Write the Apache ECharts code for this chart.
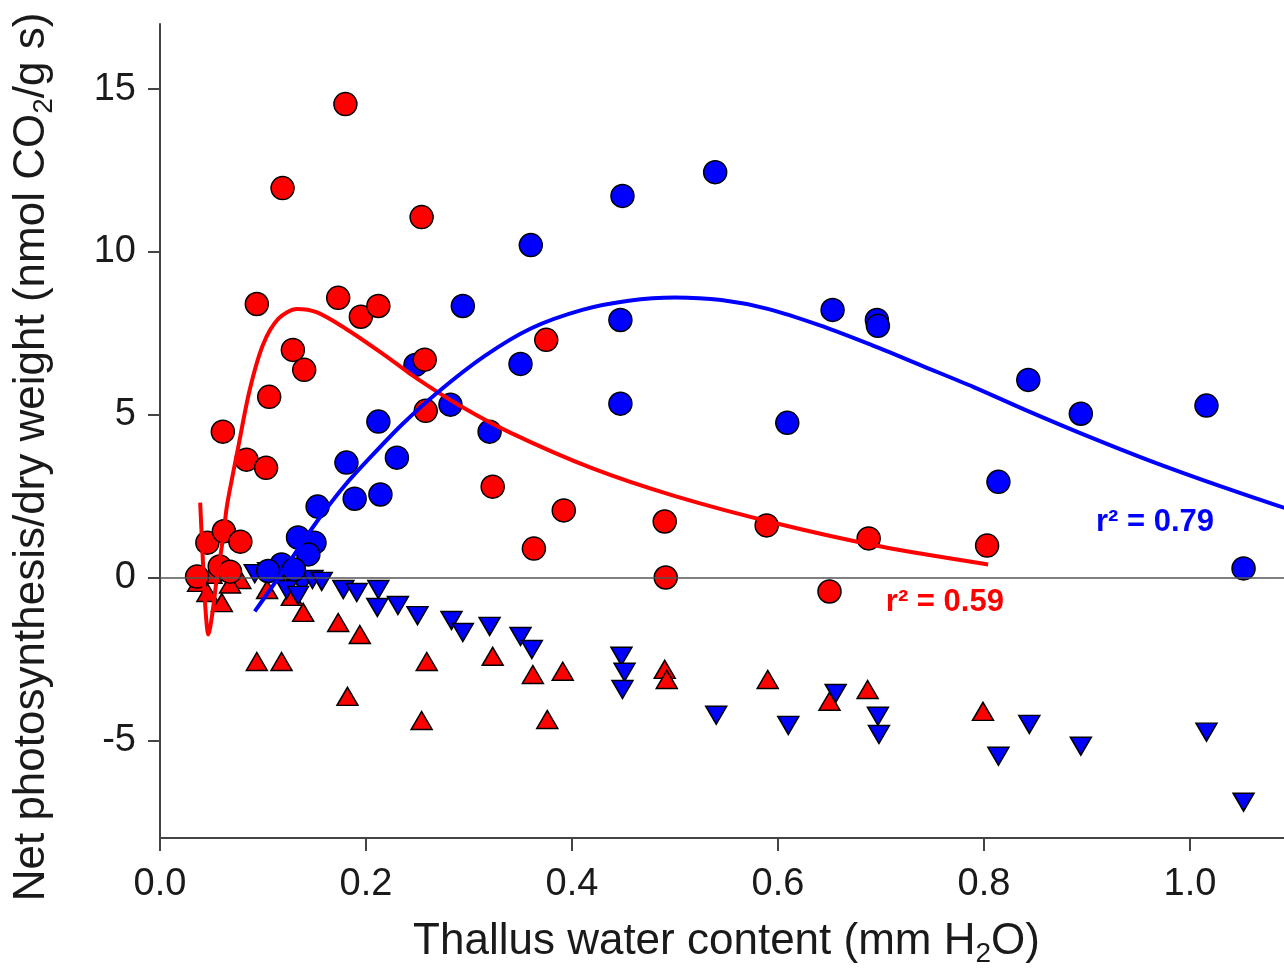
<!DOCTYPE html>
<html>
<head>
<meta charset="utf-8">
<title>Net photosynthesis vs thallus water content</title>
<script src="https://cdn.jsdelivr.net/npm/echarts@6.0.0/dist/echarts.min.js"></script>
<style>
  html, body { margin: 0; padding: 0; background: #ffffff; }
  #chart { width: 1284px; height: 971px; }
</style>
</head>
<body>
<div id="chart"></div>
<script>
// Net photosynthesis (circles) and dark respiration (triangles) per dry weight,
// red and blue samples, against thallus water content.
const redPhotosynthesis = [
  [0.180, 14.54], [0.119, 11.96], [0.254, 11.07], [0.094, 8.40], [0.173, 8.59],
  [0.195, 8.01], [0.212, 8.34], [0.129, 6.99], [0.140, 6.38], [0.257, 6.69],
  [0.375, 7.30], [0.106, 5.55], [0.258, 5.12], [0.061, 4.48], [0.084, 3.62],
  [0.103, 3.37], [0.323, 2.79], [0.392, 2.06], [0.363, 0.89], [0.490, 1.72],
  [0.589, 1.60], [0.688, 1.20], [0.803, 0.98], [0.491, 0.00], [0.650, -0.43],
  [0.036, 0.03], [0.046, 1.07], [0.062, 1.42], [0.078, 1.10], [0.058, 0.34],
  [0.068, 0.18]
];
const bluePhotosynthesis = [
  [0.539, 12.45], [0.449, 11.72], [0.360, 10.21], [0.294, 8.34], [0.447, 7.91],
  [0.653, 8.22], [0.696, 7.91], [0.697, 7.73], [0.350, 6.56], [0.248, 6.53],
  [0.447, 5.34], [0.609, 4.75], [0.843, 6.07], [0.894, 5.03], [1.016, 5.28],
  [0.814, 2.94], [1.052, 0.28], [0.282, 5.31], [0.320, 4.48], [0.212, 4.79],
  [0.230, 3.68], [0.181, 3.53], [0.189, 2.42], [0.214, 2.55], [0.153, 2.18],
  [0.134, 1.23], [0.150, 1.07], [0.144, 0.71], [0.118, 0.40], [0.105, 0.20],
  [0.130, 0.25]
];
const redRespiration = [
  [0.037, -0.15], [0.046, -0.46], [0.060, -0.77], [0.060, 0.18], [0.078, -0.06],
  [0.104, -0.37], [0.128, -0.58], [0.139, -1.07], [0.173, -1.38], [0.194, -1.75],
  [0.094, -2.58], [0.118, -2.58], [0.259, -2.58], [0.182, -3.65], [0.254, -4.39],
  [0.323, -2.42], [0.362, -2.98], [0.391, -2.88], [0.490, -2.82], [0.492, -3.13],
  [0.376, -4.36], [0.590, -3.13], [0.650, -3.80], [0.687, -3.44], [0.799, -4.11],
  [0.050, 0.10], [0.068, -0.20]
];
const blueRespiration = [
  [0.092, 0.12], [0.105, 0.18], [0.117, 0.00], [0.128, -0.06], [0.138, -0.21],
  [0.148, -0.06], [0.157, -0.12], [0.123, -0.37], [0.134, -0.55],
  [0.178, -0.37], [0.191, -0.46], [0.212, -0.37], [0.211, -0.92], [0.231, -0.86],
  [0.250, -1.17], [0.283, -1.32], [0.294, -1.69], [0.320, -1.50], [0.350, -1.81],
  [0.361, -2.21], [0.448, -2.42], [0.451, -2.91], [0.449, -3.44], [0.540, -4.23],
  [0.610, -4.54], [0.656, -3.56], [0.697, -4.26], [0.698, -4.82], [0.814, -5.49],
  [0.844, -4.51], [0.894, -5.18], [1.016, -4.75], [1.052, -6.90]
];
// Fitted curves
const redFitX = [0.039, 0.041, 0.044, 0.047, 0.051, 0.055, 0.060, 0.065, 0.070, 0.075,
  0.087, 0.100, 0.115, 0.133, 0.152, 0.180, 0.215, 0.250, 0.290, 0.340,
  0.420, 0.500, 0.600, 0.700, 0.804];
const redFitY = [2.30, 0.95, -0.90, -1.75, -1.07, -0.06, 0.95, 2.20, 3.05, 3.85,
  5.75, 7.15, 7.95, 8.25, 8.15, 7.65, 6.90, 6.10, 5.30, 4.45,
  3.35, 2.50, 1.65, 0.95, 0.40];
const blueFitX = [0.092, 0.107, 0.126, 0.143, 0.160, 0.180, 0.200, 0.235, 0.270, 0.315,
  0.360, 0.410, 0.455, 0.500, 0.545, 0.590, 0.640, 0.690, 0.740, 0.790,
  0.840, 0.900, 0.960, 1.030, 1.100];
const blueFitY = [-1.04, -0.37, 0.50, 1.30, 2.05, 2.85, 3.55, 4.70, 5.70, 6.80,
  7.65, 8.22, 8.50, 8.60, 8.52, 8.25, 7.75, 7.15, 6.50, 5.85,
  5.15, 4.35, 3.60, 2.80, 2.05];
const fitLabels = ['r\u00B2 = 0.59', 'r\u00B2 = 0.79'];
const xTicks = [0, 0.2, 0.4, 0.6, 0.8, 1.0];
const yTicks = [-5, 0, 5, 10, 15];

const RED = '#ff0000';
const BLUE = '#0000ff';
const FONT = '"Liberation Sans", Arial, sans-serif';

const zip = (xs, ys) => xs.map((x, i) => [x, ys[i]]);

const chart = echarts.init(document.getElementById('chart'), null, { renderer: 'canvas' });

const markerStyle = (color) => ({ color: color, borderColor: '#000000', borderWidth: 1.5, opacity: 1 });

const titleRich = { sub: { fontFamily: FONT, fontSize: 28, lineHeight: 26, verticalAlign: 'bottom', color: '#1a1a1a' } };

chart.setOption({
  backgroundColor: '#ffffff',
  animation: false,
  grid: { left: 160, right: -9, top: 24, bottom: 133, containLabel: false, outerBoundsMode: 'none' },
  xAxis: {
    type: 'value',
    min: 0, max: 1.1,
    name: 'Thallus water content (mm H{sub|2}O)',
    nameLocation: 'middle',
    nameGap: 78,
    nameTextStyle: { fontFamily: FONT, fontSize: 44, color: '#1a1a1a', lineHeight: 52, rich: titleRich },
    axisLine: { onZero: false, lineStyle: { color: '#444', width: 2 } },
    axisTick: { show: true, length: 13, lineStyle: { color: '#444', width: 2 }, customValues: xTicks },
    axisLabel: {
      customValues: xTicks,
      formatter: (v) => v.toFixed(1),
      fontFamily: FONT, fontSize: 38, color: '#1a1a1a', margin: 28
    },
    splitLine: { show: false }
  },
  yAxis: {
    type: 'value',
    min: -8, max: 17,
    name: 'Net photosynthesis/dry weight (nmol CO{sub|2}/g s)',
    nameLocation: 'middle',
    nameRotate: 90,
    nameGap: 102,
    nameTextStyle: {
      fontFamily: FONT, fontSize: 44, color: '#1a1a1a', lineHeight: 52, rich: titleRich,
      // extra room at the text's end pushes the rotated title down the axis
      padding: [0, 52, 0, 0]
    },
    axisLine: { lineStyle: { color: '#444', width: 2 } },
    axisTick: { show: true, length: 12, lineStyle: { color: '#444', width: 2 }, customValues: yTicks },
    axisLabel: {
      customValues: yTicks,
      fontFamily: FONT, fontSize: 38, color: '#1a1a1a', margin: 24
    },
    splitLine: { show: false }
  },
  series: [
    {
      type: 'line', data: [], silent: true,
      markLine: {
        silent: true, symbol: 'none', label: { show: false },
        lineStyle: { color: '#555', width: 1.5, type: 'solid' },
        data: [{ yAxis: 0 }]
      }
    },
    {
      name: 'red fit', type: 'line', data: zip(redFitX, redFitY),
      smooth: 0.3, showSymbol: false, silent: true,
      lineStyle: { color: RED, width: 4 }
    },
    {
      name: 'blue fit', type: 'line', data: zip(blueFitX, blueFitY),
      smooth: 0.3, showSymbol: false, silent: true,
      lineStyle: { color: BLUE, width: 4 }
    },
    {
      name: 'red respiration', type: 'scatter', data: redRespiration,
      symbol: 'triangle', symbolSize: [21, 18], itemStyle: markerStyle(RED)
    },
    {
      name: 'blue respiration', type: 'scatter', data: blueRespiration,
      symbol: 'triangle', symbolRotate: 180, symbolSize: [21, 18], itemStyle: markerStyle(BLUE)
    },
    {
      name: 'blue photosynthesis', type: 'scatter', data: bluePhotosynthesis,
      symbol: 'circle', symbolSize: 23, itemStyle: markerStyle(BLUE)
    },
    {
      name: 'red photosynthesis', type: 'scatter', data: redPhotosynthesis,
      symbol: 'circle', symbolSize: 23, itemStyle: markerStyle(RED)
    }
  ]
});

// Goodness-of-fit annotations placed in data coordinates
const redLabelPos = chart.convertToPixel({ gridIndex: 0 }, [0.762, -0.77]);
const blueLabelPos = chart.convertToPixel({ gridIndex: 0 }, [0.966, 1.69]);
chart.setOption({
  graphic: [
    {
      type: 'text', x: redLabelPos[0], y: redLabelPos[1], z: 100,
      style: { text: fitLabels[0], fill: RED, font: 'bold 31px ' + FONT, align: 'center', verticalAlign: 'middle' }
    },
    {
      type: 'text', x: blueLabelPos[0], y: blueLabelPos[1], z: 100,
      style: { text: fitLabels[1], fill: BLUE, font: 'bold 31px ' + FONT, align: 'center', verticalAlign: 'middle' }
    }
  ]
});
</script>
</body>
</html>
